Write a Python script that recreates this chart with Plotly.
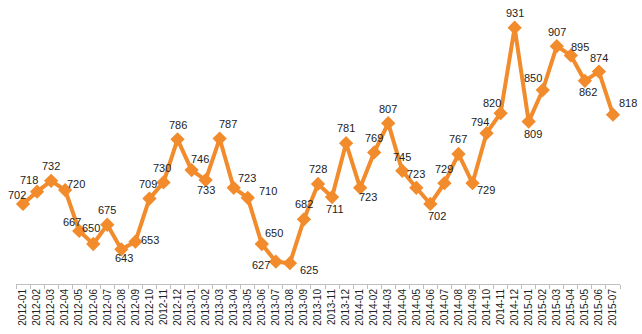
import plotly.graph_objects as go

months = ["2012-01","2012-02","2012-03","2012-04","2012-05","2012-06","2012-07","2012-08","2012-09","2012-10","2012-11","2012-12",
          "2013-01","2013-02","2013-03","2013-04","2013-05","2013-06","2013-07","2013-08","2013-09","2013-10","2013-11","2013-12",
          "2014-01","2014-02","2014-03","2014-04","2014-05","2014-06","2014-07","2014-08","2014-09","2014-10","2014-11","2014-12",
          "2015-01","2015-02","2015-03","2015-04","2015-05","2015-06","2015-07"]
values = [702,718,732,720,667,650,675,643,653,709,730,786,
          746,733,787,723,710,650,627,625,682,728,711,781,
          723,769,807,745,723,702,729,767,729,794,820,931,
          809,850,907,895,862,874,818]

# label offsets in pixels (dx right, dy down) relative to each point
label_offsets = [(-6,-9),(-8,-12),(0,-15),(11,-6),(-7,-9),(-2,-16),(0,-15),(3,9),(15,-2),(-1,-15),(-1,-14),(0,-14),
                 (8,-11),(0,10),(8,-15),(13,-10),(20,-7),(12,-11),(-15,3),(19,7),(0,-15),(0,-15),(3,12),(0,-15),
                 (8,9),(0,-14),(0,-14),(0,-14),(0,-14),(7,12),(0,-14),(0,-15),(13,7),(-7,-11),(-9,-10),(0,-15),
                 (4,12),(-10,-12),(0,-14),(9,-8),(3,11),(0,-14),(15,-12)]

color = "#F18B2C"

fig = go.Figure(go.Scatter(
    x=months, y=values, mode="lines+markers",
    line=dict(color=color, width=4),
    marker=dict(symbol="diamond", size=11, color=color),
    cliponaxis=False,
))

for m, v, (dx, dy) in zip(months, values, label_offsets):
    fig.add_annotation(
        x=m, y=v, text=str(v), showarrow=False,
        xanchor="center", yanchor="middle", xshift=dx, yshift=-dy,
        font=dict(family="Liberation Sans, Arial", size=11, color="#222222"),
    )

fig.update_layout(
    width=642, height=334,
    margin=dict(l=16, r=22, t=0, b=50),
    paper_bgcolor="white", plot_bgcolor="white",
    showlegend=False,
    font=dict(family="Liberation Sans, Arial", color="#222222"),
)
fig.update_xaxes(
    type="category", tickangle=-90, tickfont=dict(size=10),
    range=[-0.5, len(months) - 0.5], automargin=False,
    showline=True, linecolor="#BFBFBF", linewidth=1,
    ticks="outside", ticklen=4, tickcolor="#BFBFBF", tickson="boundaries",
    showgrid=False, zeroline=False,
)
fig.update_yaxes(range=[598, 967], visible=False, showgrid=False, zeroline=False)

fig.write_html("out.html")
